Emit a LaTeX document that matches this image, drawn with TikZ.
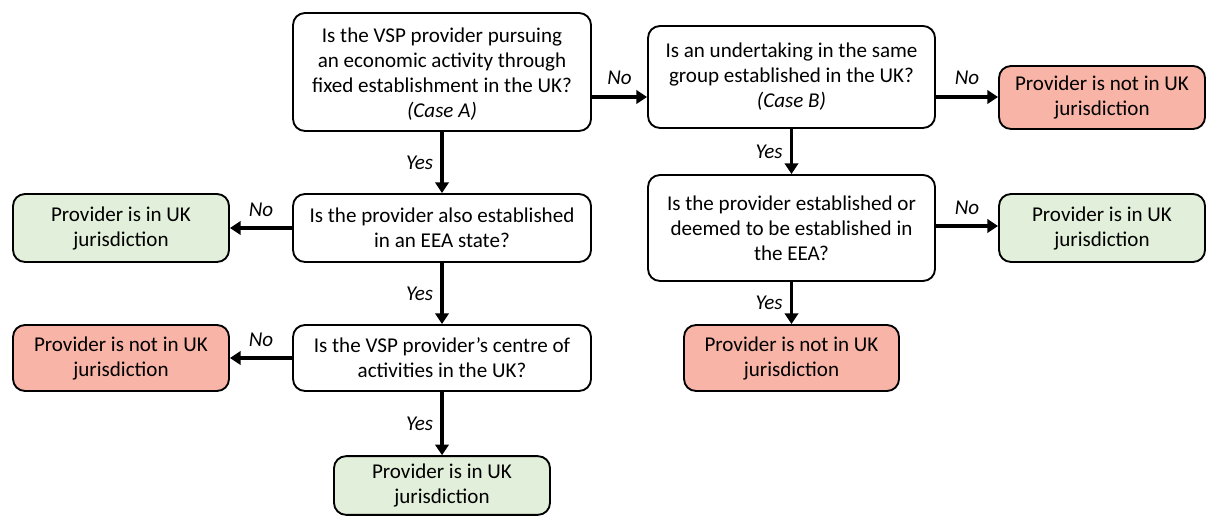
\documentclass[tikz,border=0pt]{standalone}
\usepackage{fontspec}
\setmainfont{Carlito}
\usetikzlibrary{arrows.meta}
\definecolor{gfill}{HTML}{E2EFDA}
\definecolor{rfill}{HTML}{F8B4A6}
\begin{document}
\begin{tikzpicture}[x=0.75pt,y=-0.75pt,
  box/.style={draw=black,line width=1.4pt,rounded corners=9pt,align=center,
    inner sep=2pt,font=\fontsize{15.8pt}{18.75pt}\selectfont},
  q/.style={box,fill=white},
  gbox/.style={box,fill=gfill},
  rbox/.style={box,fill=rfill},
  arr/.style={line width=2.6pt,-{Triangle[length=8pt,width=10pt]}},
  lab/.style={font=\fontsize{15.8pt}{18pt}\selectfont\itshape}]
\useasboundingbox (0,0) rectangle (1206,516);
\node[q,minimum width=223.5pt,minimum height=88.5pt] (A) at (442,72)
  {\rule{0pt}{14pt}Is the VSP provider pursuing\\an economic activity through\\fixed establishment in the UK?\\\textit{(Case A)}};
\node[q,minimum width=215.25pt,minimum height=76.5pt] (B) at (791.5,77)
  {Is an undertaking in the same\\group established in the UK?\\\textit{(Case B)}};
\node[rbox,minimum width=154.5pt,minimum height=47.25pt] (R1) at (1102,97.5)
  {Provider is not in UK\\jurisdiction};
\node[q,minimum width=223.5pt,minimum height=51pt] (Q2) at (442,228)
  {Is the provider also established\\in an EEA state?};
\node[gbox,minimum width=162pt,minimum height=51pt] (G1) at (121,228)
  {Provider is in UK\\jurisdiction};
\node[q,minimum width=215.25pt,minimum height=79.5pt] (Q3) at (791.5,228)
  {Is the provider established or\\deemed to be established in\\the EEA?};
\node[gbox,minimum width=154.5pt,minimum height=51pt] (G2) at (1102,228)
  {Provider is in UK\\jurisdiction};
\node[q,minimum width=223.5pt,minimum height=49.5pt] (Q4) at (442,358)
  {Is the VSP provider’s centre of\\activities in the UK?};
\node[rbox,minimum width=162pt,minimum height=49.5pt] (R2) at (121,358)
  {Provider is not in UK\\jurisdiction};
\node[rbox,minimum width=161.25pt,minimum height=49.5pt] (R3) at (791.5,358)
  {Provider is not in UK\\jurisdiction};
\node[gbox,minimum width=162pt,minimum height=44pt] (G3) at (442,485.5)
  {Provider is in UK\\jurisdiction};
\coordinate (y1) at (0,97);
\coordinate (y4) at (0,226);
\draw[arr] (A.east |- y1) -- (B.west |- y1) node[lab,midway,above=5pt] {No};
\draw[arr] (B.east |- y1) -- (R1.west |- y1) node[lab,midway,above=5pt] {No};
\draw[arr] (A.south) -- (Q2.north) node[lab,midway,left=2pt] {Yes};
\draw[arr] (Q2.west) -- (G1.east) node[lab,midway,above=4pt] {No};
\draw[arr] (Q2.south) -- (Q4.north) node[lab,midway,left=2pt] {Yes};
\draw[arr] (Q4.west) -- (R2.east) node[lab,midway,above=4pt] {No};
\draw[arr] (Q4.south) -- (G3.north) node[lab,midway,left=2pt] {Yes};
\draw[arr] (B.south) -- (Q3.north) node[lab,midway,left=2pt] {Yes};
\draw[arr] (Q3.east |- y4) -- (G2.west |- y4) node[lab,midway,above=4pt] {No};
\draw[arr] (Q3.south) -- (R3.north) node[lab,midway,left=2pt] {Yes};
\end{tikzpicture}
\end{document}
